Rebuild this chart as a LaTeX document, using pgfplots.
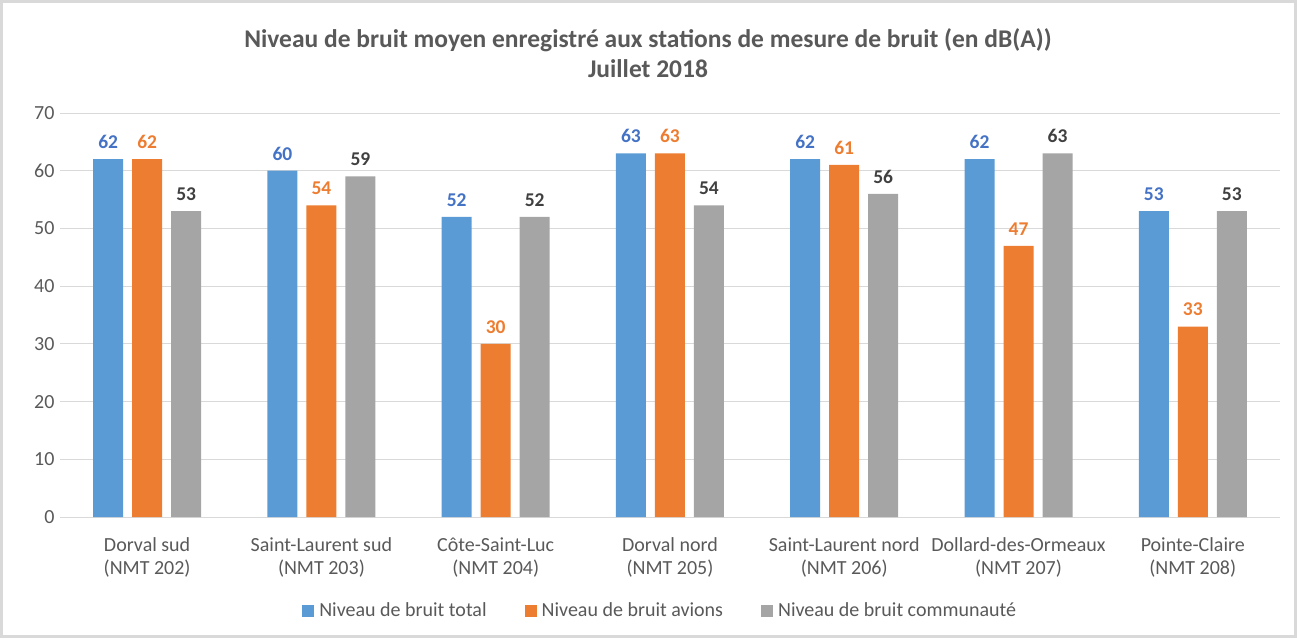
\documentclass[border=0pt]{standalone}
\usepackage{pgfplots}
\pgfplotsset{compat=1.18}
\usepackage{fontspec}
\setmainfont{Carlito}
\definecolor{cblue}{HTML}{5B9BD5}
\definecolor{corange}{HTML}{ED7D31}
\definecolor{cgray}{HTML}{A5A5A5}
\definecolor{lblue}{HTML}{4472C4}
\definecolor{ldark}{HTML}{404040}
\definecolor{ctext}{HTML}{595959}
\begin{document}
\begin{tikzpicture}[x=1pt,y=1pt]
\path[draw=gray!30, line width=3pt] (1.5,-1.5) rectangle (1295.5,-636.5);
\begin{axis}[
  at={(60pt,-517pt)}, anchor=south west,
  width=1220pt, height=404pt, scale only axis,
  xmin=-0.5, xmax=6.5, ymin=0, ymax=70,
  ybar=9pt, bar width=30pt,
  ytick={0,10,...,70},
  ymajorgrids, grid style={color=gray!30, line width=1pt},
  axis line style={draw=none},
  major tick length=0pt,
  xtick={0,...,6},
  xticklabels={{Dorval sud\\(NMT 202)},{Saint-Laurent sud\\(NMT 203)},{Côte-Saint-Luc\\(NMT 204)},{Dorval nord\\(NMT 205)},{Saint-Laurent nord\\(NMT 206)},{Dollard-des-Ormeaux\\(NMT 207)},{Pointe-Claire\\(NMT 208)}},
  xticklabel style={align=center, font=\fontsize{20}{23}\selectfont, text=ctext, yshift=-17pt},
  yticklabel style={font=\fontsize{20}{23}\selectfont, text=ctext, xshift=-2pt},
  /pgf/number format/assume math mode=true,
  title={Niveau de bruit moyen enregistré aux stations de mesure de bruit (en dB(A))\\Juillet 2018},
  title style={at={(0.482,1)}, anchor=south, yshift=26pt, align=center, font=\bfseries\fontsize{25.5}{30}\selectfont, text=ctext},
  nodes near coords,
  every node near coord/.append style={font=\bfseries\fontsize{19.5}{22}\selectfont, yshift=7pt},
  legend style={at={(0.492,-0.232)}, anchor=center, draw=none, legend columns=3, font=\fontsize{20}{23}\selectfont, text=ctext, /tikz/every even column/.append style={column sep=36pt}},
  legend image code/.code={\path[#1, draw=none] (0pt,-6pt) rectangle (12pt,6pt); \path (15pt,0pt);},
]
\addplot[fill=cblue, draw=none, every node near coord/.append style={text=lblue}] coordinates {(0,62) (1,60) (2,52) (3,63) (4,62) (5,62) (6,53)};
\addplot[fill=corange, draw=none, every node near coord/.append style={text=corange}] coordinates {(0,62) (1,54) (2,30) (3,63) (4,61) (5,47) (6,33)};
\addplot[fill=cgray, draw=none, every node near coord/.append style={text=ldark}] coordinates {(0,53) (1,59) (2,52) (3,54) (4,56) (5,63) (6,53)};
\legend{Niveau de bruit total, Niveau de bruit avions, Niveau de bruit communauté}
\end{axis}
\end{tikzpicture}
\end{document}
